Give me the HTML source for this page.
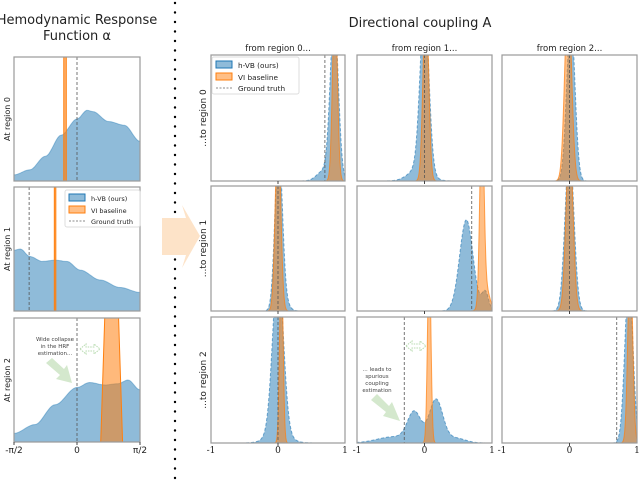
<!DOCTYPE html>
<html><head><meta charset="utf-8"><style>
body{margin:0;background:#fff;width:640px;height:480px;overflow:hidden}
svg{font-family:"DejaVu Sans","Liberation Sans",sans-serif}
</style></head><body>
<svg id="c" width="640" height="480" xmlns="http://www.w3.org/2000/svg"></svg>
<script>
// ---- data ----
const leftU = [-1,-0.75,-0.5,-0.25,0,0.16,0.25,0.5,0.75,1];
const leftHvb0 = [0.05,0.09,0.2,0.37,0.5,0.57,0.56,0.48,0.45,0.32];
const leftU1 = [-1,-0.9,-0.75,-0.55,-0.35,-0.16,0.05,0.37,0.68,1];
const leftHvb1 = [0.49,0.5,0.44,0.4,0.41,0.4,0.33,0.25,0.19,0.15];
const leftU2 = [-1,-0.67,-0.35,0,0.2,0.44,0.65,0.81,1];
const leftHvb2 = [0.07,0.14,0.3,0.44,0.48,0.46,0.47,0.5,0.42];
const leftGT = [0,-0.76,0];
const leftVI = [-0.19,-0.35,0.55];
const leftVIwidth = [0.04,0.02,0.22];
const tickLeft = ["-π/2","0","π/2"];
const tickRight = ["-1","0","1"];
const colTitles = ["from region 0...","from region 1...","from region 2..."];
// gaussian components [center, sd, height]
const blueComp = [
 [[[0.84,0.06,1.3],[0.68,0.1,0.08]], [[0,0.065,1.3],[-0.08,0.15,0.1]], [[0.02,0.06,1.3]]],
 [[[0.01,0.055,1.3],[0.1,0.07,0.06]], [[0.62,0.1,0.73],[0.9,0.05,0.15]], [[0,0.065,1.3]]],
 [[[0,0.08,1.3],[0,0.16,0.08]], [[-0.15,0.1,0.23],[0.17,0.1,0.34],[-0.45,0.25,0.05],[0.45,0.15,0.04]], [[0.88,0.06,1.3]]]
];
const orangeComp = [
 [[[0.85,0.035,1.5]], [[0.02,0.04,1.5]], [[-0.02,0.05,1.5]]],
 [[[0,0.04,1.5]], [[0.85,0.03,1.5],[0.9,0.06,0.2]], [[0,0.05,1.4]]],
 [[[0.05,0.025,1.5]], [[0.07,0.025,1.5]], [[0.9,0.035,1.5]]]
];
const gtRight = [[0.7,0,0],[0,0.7,0],[0,-0.3,0.7]];

const S = document.getElementById('c');
const NS = 'http://www.w3.org/2000/svg';
function mk(tag, attrs, parent){const e=document.createElementNS(NS,tag);for(const k in attrs)e.setAttribute(k,attrs[k]);(parent||S).appendChild(e);return e;}
function txt(x,y,s,size,anchor,parent,rot){const t=mk('text',{x:x,y:y,'font-size':size,'text-anchor':anchor||'middle',fill:'#222'},parent);if(rot)t.setAttribute('transform','rotate(-90 '+x+' '+y+')');t.textContent=s;return t;}

const BLUE='#1f77b4', ORANGE='#ff7f0e';
function frame(x0,y0,x1,y1,name){const r=mk('rect',{x:x0,y:y0,width:x1-x0,height:y1-y0,fill:'none',stroke:'#9a9a9a','stroke-width':1.2});}
function clip(id,x0,y0,x1,y1){const cp=mk('clipPath',{id:id});mk('rect',{x:x0,y:y0,width:x1-x0,height:y1-y0},cp);}

txt(77,24,'Hemodynamic Response',13);
txt(77,40,'Function α',13);
txt(420,27,'Directional coupling A',13);

for(let y=3;y<480;y+=9.5){const d=mk('circle',{cx:175,cy:y,r:1.2,fill:'#000'});}
const ar=mk('polygon',{points:'162,218 186,218 182,205 200,236 182,268 186,255 162,255',fill:'#fde3c8'});


const LX0=14,LX1=140;
const LP=[[57,181],[187,311],[318,442]];
const LUs=[leftU,leftU1,leftU2], LHs=[leftHvb0,leftHvb1,leftHvb2];
function lx(u){return LX0+(u+1)/2*(LX1-LX0);}
LP.forEach(([y0,y1],i)=>{
  const g=mk('g',{'clip-path':'url(#lc'+i+')'});
  
  clip('lc'+i,LX0,y0,LX1,y1);
  const us=LUs[i],hs=LHs[i];const h=y1-y0;
  let d='M'+LX0+','+y1;
  const N=80;
  for(let k=0;k<=N;k++){const u=-1+2*k/N;let j=0;while(j<us.length-2&&u>us[j+1])j++;
    let t=(u-us[j])/(us[j+1]-us[j]);t=t*t*(3-2*t);const v=hs[j]+(hs[j+1]-hs[j])*t;d+=' L'+lx(u).toFixed(1)+','+(y1-v*h).toFixed(1);}
  d+=' L'+LX1+','+y1+' Z';
  const p=mk('path',{d:d,fill:BLUE,'fill-opacity':0.5,stroke:BLUE,'stroke-opacity':0.4},g);
  
  const vx=lx(leftVI[i]),vw=(LX1-LX0)/2*leftVIwidth[i];
  let vi;
  if(i==2){vi=mk('polygon',{points:(vx-vw/2)+','+y0+' '+(vx+vw/2)+','+y0+' '+(vx+vw/2+4)+','+y1+' '+(vx-vw/2-4)+','+y1,fill:ORANGE,'fill-opacity':0.55,stroke:ORANGE},g);}
  else vi=mk('rect',{x:vx-vw/2,y:y0,width:Math.max(vw,1.5),height:h,fill:ORANGE,'fill-opacity':0.6,stroke:ORANGE},g);
  
  const gt=mk('line',{x1:lx(leftGT[i]),x2:lx(leftGT[i]),y1:y0,y2:y1,stroke:'#555','stroke-width':0.8,'stroke-dasharray':'3,2'},g);
  
  frame(LX0,y0,LX1,y1,'hrf-frame-'+i);
  const lab=txt(10,(y0+y1)/2,'At region '+i,8,'middle',null,true);
});
tickLeft.forEach((s,i)=>{const x=lx(-1+i);mk('line',{x1:x,x2:x,y1:442,y2:445,stroke:'#444'});const t=txt(x,453,s,9);});

function legend(x,y,w,name){const g=mk('g',{});
  mk('rect',{x:x,y:y,width:w,height:37,rx:2,fill:'#fff','fill-opacity':0.9,stroke:'#ddd'},g);
  mk('rect',{x:x+4,y:y+4,width:16,height:7,fill:BLUE,'fill-opacity':0.5,stroke:BLUE},g);
  mk('rect',{x:x+4,y:y+16,width:16,height:7,fill:ORANGE,'fill-opacity':0.5,stroke:ORANGE},g);
  mk('line',{x1:x+4,x2:x+20,y1:y+31,y2:y+31,stroke:'#666','stroke-dasharray':'2,1.5','stroke-width':0.8},g);
  const s=w>80?7.3:6.5;
  txt(x+26,y+11,'h-VB (ours)',s,'start',g);txt(x+26,y+23,'VI baseline',s,'start',g);txt(x+26,y+34,'Ground truth',s,'start',g);}
legend(65,190,75,'hrf-legend');

const a1=mk('g',{});
['Wide collapse','in the HRF','estimation...'].forEach((s,i)=>{const t=txt(55,341+i*7,s,5.5,'middle',a1);t.setAttribute('fill','#444');});
mk('polygon',{points:'46,363 52,358 64,369 67,365 72,383 56,379 60,375',fill:'#cfe6c8','fill-opacity':0.9},a1);
mk('polygon',{points:'80,349 86,344 86,347 94,347 94,344 100,349 94,354 94,351 86,351 86,354',fill:'none',stroke:'#b8dbb0','stroke-dasharray':'1.5,1'},a1);

const CX=[[211,345],[357,492],[502,637]];
const RY=[[55,181],[186,311],[317,443]];
function gauss(comp,u){let v=0;comp.forEach(([c,s,h])=>{v+=h*Math.exp(-0.5*((u-c)/s)**2);});return v;}
function densPath(comp,x0,x1,y1,h){const N=240;let d='M'+x0+','+y1;for(let k=0;k<=N;k++){const u=-1+2*k/N;const x=x0+(u+1)/2*(x1-x0);d+=' L'+x.toFixed(2)+','+(y1-gauss(comp,u)*h).toFixed(2);}return d+' L'+x1+','+y1+' Z';}
for(let r=0;r<3;r++)for(let c=0;c<3;c++){
  const [x0,x1]=CX[c],[y0,y1]=RY[r];const h=y1-y0;
  const id='rc'+r+c;clip(id,x0,y0,x1,y1);
  const g=mk('g',{'clip-path':'url(#'+id+')'});
  const b=mk('path',{d:densPath(blueComp[r][c],x0,x1,y1,h),fill:BLUE,'fill-opacity':0.5,stroke:BLUE,'stroke-opacity':0.6,'stroke-dasharray':'3,2'},g);
  
  const o=mk('path',{d:densPath(orangeComp[r][c],x0,x1,y1,h),fill:ORANGE,'fill-opacity':0.5,stroke:ORANGE,'stroke-opacity':0.7},g);
  
  const gx=x0+(gtRight[r][c]+1)/2*(x1-x0);
  const gl=mk('line',{x1:gx,x2:gx,y1:y0,y2:y1,stroke:'#555','stroke-width':0.8,'stroke-dasharray':'3,2'},g);
  
  frame(x0,y0,x1,y1,'coupling-frame-'+r+'-'+c);
  const xm=(x0+x1)/2;mk('line',{x1:xm,x2:xm,y1:y1,y2:y1+3,stroke:'#444'});
  if(r==2){tickRight.forEach((s,i)=>{const x=x0+i*(x1-x0)/2;const t=txt(x,453,s,9,'middle');t.setAttribute('font-family','"DejaVu Serif",serif');});}
}
colTitles.forEach((s,i)=>{const t=txt((CX[i][0]+CX[i][1])/2,51,s,8.5);});
for(let r=0;r<3;r++){const t=txt(206,(RY[r][0]+RY[r][1])/2,'...to region '+r,9,'middle',null,true);}
legend(212,57,87,'coupling-legend');

const a2=mk('g',{});
['... leads to','spurious','coupling','estimation'].forEach((s,i)=>{const t=txt(377,371+i*7,s,5.5,'middle',a2);t.setAttribute('fill','#444');});
mk('polygon',{points:'371,400 377,394 389,406 392,402 400,421 383,416 386,412',fill:'#cfe6c8','fill-opacity':0.9},a2);
mk('polygon',{points:'406,346 412,341 412,344 420,344 420,341 426,346 420,351 420,348 412,348 412,351',fill:'none',stroke:'#b8dbb0','stroke-dasharray':'1.5,1'},a2);
</script>
</body></html>
